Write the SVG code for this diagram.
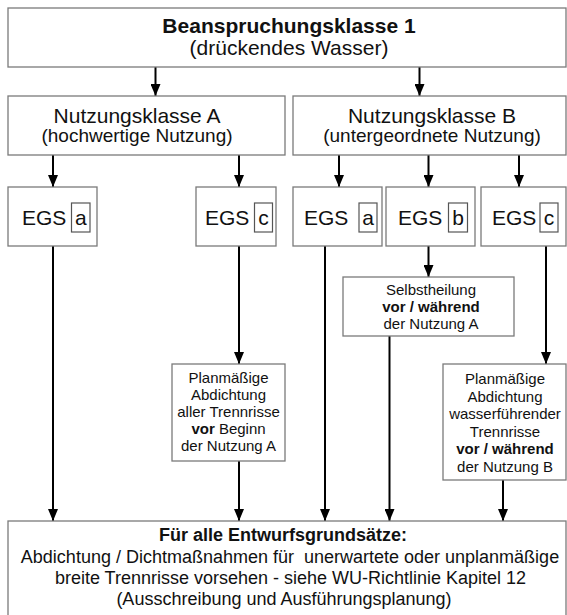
<svg xmlns="http://www.w3.org/2000/svg" width="567" height="615" viewBox="0 0 567 615">
<defs>
<style>
.box{fill:#fff;stroke:#7a7a7a;stroke-width:1.3}
.ib{fill:#fff;stroke:#555;stroke-width:1.2}
.t{font-family:"Liberation Sans",Arial,sans-serif;fill:#111}
.c{text-anchor:middle}
.b{font-weight:bold}
.f21{font-size:21px}
.f19{font-size:19px}
.f18{font-size:18px}
.f15{font-size:15px}
.con line{stroke:#000;stroke-width:2;marker-end:url(#ah)}
</style>
<marker id="ah" markerWidth="12" markerHeight="10" refX="12" refY="5" orient="auto" markerUnits="userSpaceOnUse">
<path d="M0,0 L12,5 L0,10 z" fill="#000"/>
</marker>
</defs>
<rect width="567" height="615" fill="#fff"/>

<g id="connectors" class="con">
<line x1="155.5" y1="67" x2="155.5" y2="96"/>
<line x1="419.5" y1="67" x2="419.5" y2="96"/>
<line x1="53" y1="155" x2="53" y2="187"/>
<line x1="239" y1="155" x2="239" y2="187"/>
<line x1="339" y1="155" x2="339" y2="187"/>
<line x1="428.5" y1="155" x2="428.5" y2="187"/>
<line x1="519" y1="155" x2="519" y2="187"/>
<line x1="53" y1="246" x2="53" y2="521"/>
<line x1="239" y1="246" x2="239" y2="364"/>
<line x1="325" y1="246" x2="325" y2="521"/>
<line x1="428.5" y1="246" x2="428.5" y2="277"/>
<line x1="546" y1="246" x2="546" y2="364"/>
<line x1="239" y1="461" x2="239" y2="521"/>
<line x1="389.5" y1="336" x2="389.5" y2="521"/>
<line x1="503" y1="480" x2="503" y2="521"/>
</g>

<g id="beanspruchungsklasse">
<rect class="box" x="8" y="8" width="558" height="59"/>
<text class="t c b f21" x="289" y="33">Beanspruchungsklasse 1</text>
<text class="t c f21" x="289" y="55">(drückendes Wasser)</text>
</g>

<g id="nutzungsklasse-a">
<rect class="box" x="8" y="96" width="277" height="59"/>
<text class="t c f21" x="137" y="123">Nutzungsklasse A</text>
<text class="t c f19" x="137" y="142">(hochwertige Nutzung)</text>
</g>

<g id="nutzungsklasse-b">
<rect class="box" x="293" y="96" width="273" height="59"/>
<text class="t c f21" x="432" y="123">Nutzungsklasse B</text>
<text class="t c f19" x="432" y="142">(untergeordnete Nutzung)</text>
</g>

<g id="egs-a-1">
<rect class="box" x="8" y="187" width="89" height="59"/>
<text class="t f21" x="22" y="225">EGS</text>
<rect class="ib" x="71.5" y="203" width="18.5" height="29"/>
<text class="t c f21" x="80.8" y="225">a</text>
</g>

<g id="egs-c-1">
<rect class="box" x="196" y="187" width="80" height="59"/>
<text class="t f21" x="205" y="225">EGS</text>
<rect class="ib" x="254.5" y="203" width="18" height="29"/>
<text class="t c f21" x="263.5" y="225">c</text>
</g>

<g id="egs-a-2">
<rect class="box" x="293" y="187" width="89" height="59"/>
<text class="t f21" x="304" y="225">EGS</text>
<rect class="ib" x="359" y="203" width="18" height="29"/>
<text class="t c f21" x="368" y="225">a</text>
</g>

<g id="egs-b">
<rect class="box" x="386" y="187" width="89" height="59"/>
<text class="t f21" x="398" y="225">EGS</text>
<rect class="ib" x="448.5" y="203" width="19" height="29"/>
<text class="t c f21" x="458" y="225">b</text>
</g>

<g id="egs-c-2">
<rect class="box" x="481" y="187" width="85" height="59"/>
<text class="t f21" x="492" y="225">EGS</text>
<rect class="ib" x="540" y="203" width="18" height="29"/>
<text class="t c f21" x="549" y="225">c</text>
</g>

<g id="selbstheilung">
<rect class="box" x="343" y="277" width="171" height="59"/>
<text class="t c f15" x="431" y="295">Selbstheilung</text>
<text class="t c f15 b" x="431" y="312">vor / während</text>
<text class="t c f15" x="431" y="329">der Nutzung A</text>
</g>

<g id="abdichtung-a">
<rect class="box" x="172" y="364" width="113" height="97"/>
<text class="t c f15" x="228.5" y="383">Planmäßige</text>
<text class="t c f15" x="228.5" y="400">Abdichtung</text>
<text class="t c f15" x="228.5" y="417">aller Trennrisse</text>
<text class="t c f15" x="228.5" y="434"><tspan class="b">vor</tspan> Beginn</text>
<text class="t c f15" x="228.5" y="451">der Nutzung A</text>
</g>

<g id="abdichtung-b">
<rect class="box" x="443" y="364" width="123" height="116"/>
<text class="t c f15" x="505" y="384">Planmäßige</text>
<text class="t c f15" x="505" y="401.5">Abdichtung</text>
<text class="t c f15" x="505" y="419">wasserführender</text>
<text class="t c f15" x="505" y="436.5">Trennrisse</text>
<text class="t c f15 b" x="505" y="454">vor / während</text>
<text class="t c f15" x="505" y="471.5">der Nutzung B</text>
</g>

<g id="entwurfsgrundsaetze">
<rect class="box" x="8" y="521" width="558" height="100"/>
<text class="t c b f18" x="283" y="541">Für alle Entwurfsgrundsätze:</text>
<text class="t c f18" x="290" y="563" xml:space="preserve">Abdichtung / Dichtmaßnahmen für  unerwartete oder unplanmäßige</text>
<text class="t c f18" x="290.5" y="584">breite Trennrisse vorsehen - siehe WU-Richtlinie Kapitel 12</text>
<text class="t c f18" x="284" y="605">(Ausschreibung und Ausführungsplanung)</text>
</g>
</svg>
